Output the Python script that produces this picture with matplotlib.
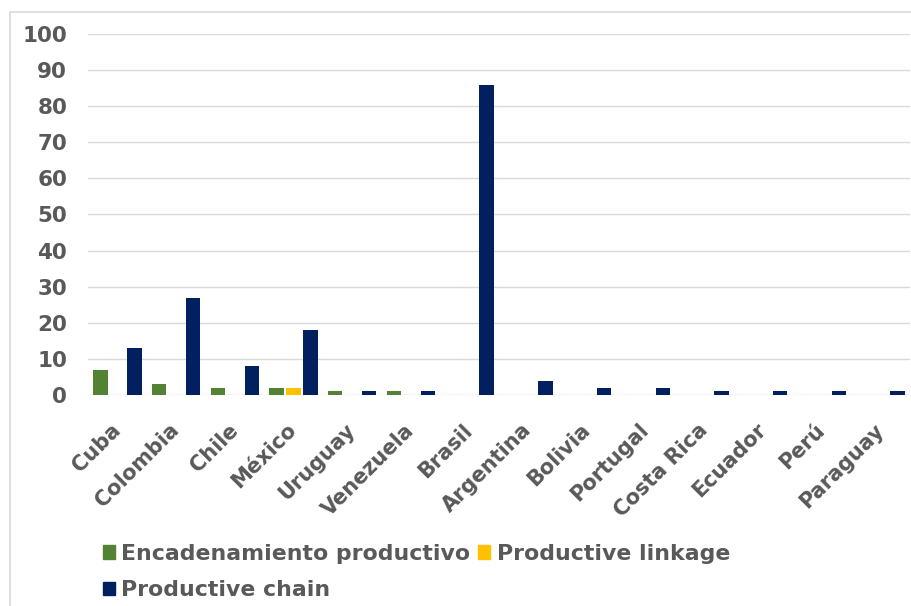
import matplotlib
matplotlib.use("Agg")
import matplotlib.pyplot as plt
from matplotlib.patches import Rectangle, Patch
import numpy as np

categories = ["Cuba", "Colombia", "Chile", "México", "Uruguay", "Venezuela", "Brasil",
              "Argentina", "Bolivia", "Portugal", "Costa Rica", "Ecuador", "Perú", "Paraguay"]
encadenamiento = [7, 3, 2, 2, 1, 1, 0, 0, 0, 0, 0, 0, 0, 0]
linkage = [0, 0, 0, 2, 0, 0, 0, 0, 0, 0, 0, 0, 0, 0]
chain = [13, 27, 8, 18, 1, 1, 86, 4, 2, 2, 1, 1, 1, 1]
series_names = ["Encadenamiento productivo", "Productive linkage", "Productive chain"]
colors = ["#548235", "#FFC000", "#002060"]
yticks = list(range(0, 101, 10))

text_gray = "#595959"
fig = plt.figure(figsize=(9.12, 6.06), dpi=100)
ax = fig.add_axes([88/912, 1-395/606, (910-88)/912, (395-34)/606])

x = np.arange(len(categories))
w = 0.245
for i, (vals, c) in enumerate(zip([encadenamiento, linkage, chain], colors)):
    ax.bar(x + (i-1)*0.29, vals, width=w, color=c, zorder=3)

ax.set_xlim(-0.5, len(categories)-0.5)
ax.set_ylim(0, 100)
ax.set_yticks(yticks)
ax.set_yticklabels([str(v) for v in yticks], fontsize=15.5, fontweight="bold", color=text_gray)
ax.set_xticks(x)
ax.set_xticklabels(categories, rotation=45, ha="right", va="center", rotation_mode="anchor",
                   fontsize=15, fontweight="bold", color=text_gray)
ax.tick_params(axis="both", length=0)
ax.tick_params(axis="y", pad=15)
ax.tick_params(axis="x", pad=23)
ax.grid(axis="y", color="#d9d9d9", linewidth=1, zorder=0)
for s in ax.spines.values():
    s.set_visible(False)

handles = [Patch(color=colors[0]), Patch(color=colors[2]), Patch(color=colors[1])]
labels = [series_names[0], series_names[2], series_names[1]]
leg = fig.legend(handles, labels, ncol=2, loc="upper left", bbox_to_anchor=(83/912, 1-524/606),
                 frameon=False, handlelength=0.55, handleheight=0.55, handletextpad=0.3,
                 columnspacing=0.35, labelspacing=0.75,
                 prop={"family": "DejaVu Sans", "weight": "bold", "size": 15.8},
                 labelcolor=text_gray)

fig.add_artist(Rectangle((10/912, -0.05), 1.2, 1-12/606+0.05, transform=fig.transFigure,
                         fill=False, edgecolor="#d9d9d9", linewidth=1.2))

fig.savefig("out.png", dpi=100)
